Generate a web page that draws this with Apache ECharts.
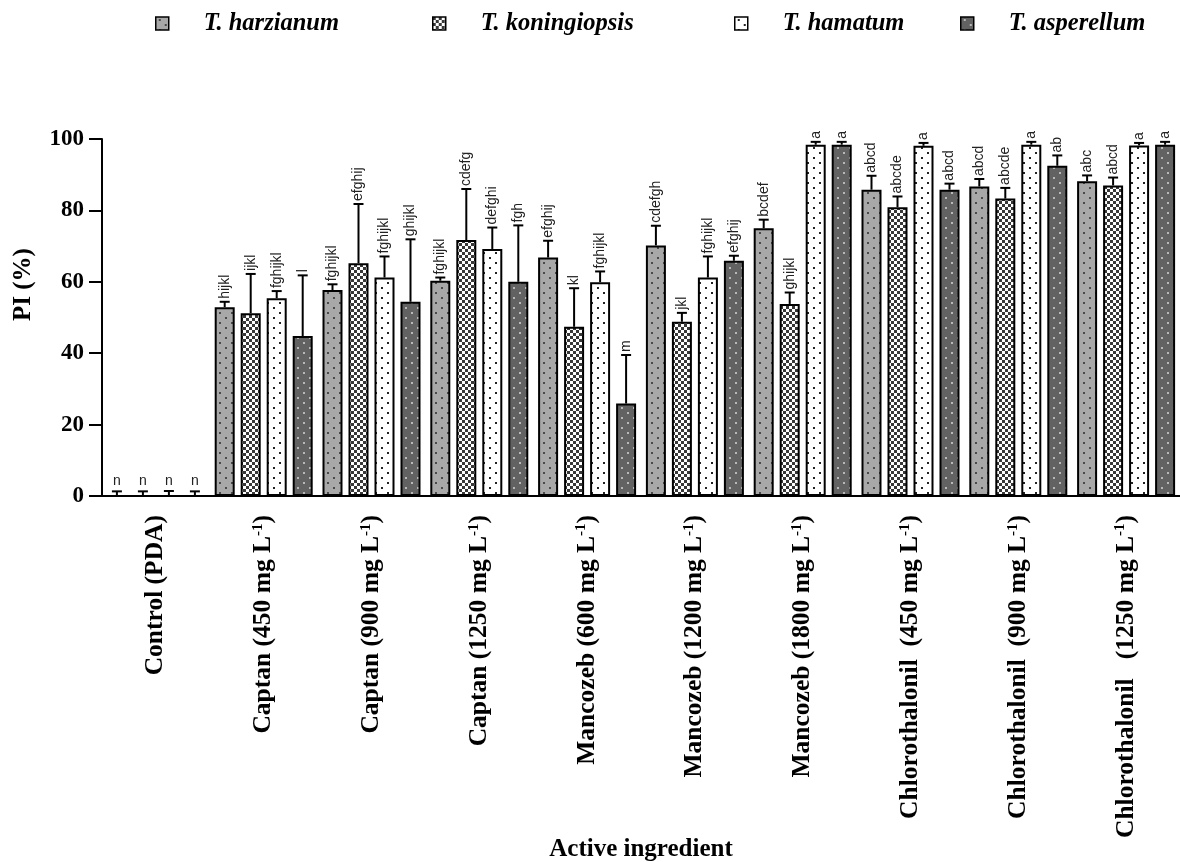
<!DOCTYPE html>
<html>
<head>
<meta charset="utf-8">
<script src="https://cdn.jsdelivr.net/npm/echarts@6/dist/echarts.min.js"></script>
<style>
html,body{margin:0;padding:0;background:#fff;}
#chart{width:1180px;height:862px;}
</style>
</head>
<body>
<div id="chart"></div>
<script>
// ---------- data ----------
const categories = ['Control (PDA)', 'Captan (450 mg L-1)', 'Captan (900 mg L-1)', 'Captan (1250 mg L-1)',
  'Mancozeb (600 mg L-1)', 'Mancozeb (1200 mg L-1)', 'Mancozeb (1800 mg L-1)',
  'Chlorothalonil  (450 mg L-1)', 'Chlorothalonil  (900 mg L-1)', 'Chlorothalonil   (1250 mg L-1)'];
const seriesNames = ['T. harzianum', 'T. koningiopsis', 'T. hamatum', 'T. asperellum'];

const harzianum    = [0, 52.9, 57.7, 60.3, 66.8, 70.2, 75.0, 85.8, 86.7, 88.2];
const harzianumErr = [1.3, 1.5, 1.6, 0.9, 4.7, 5.5, 2.4, 3.9, 2.1, 1.6];
const harzianumLbl = ['n', 'hijkl', 'fghijkl', 'fghijkl', 'efghij', 'cdefgh', 'bcdef', 'abcd', 'abcd', 'abc'];

const koningiopsis    = [0, 51.2, 65.2, 71.7, 47.4, 48.8, 53.8, 80.9, 83.3, 87.0];
const koningiopsisErr = [1.3, 11.0, 16.6, 14.3, 10.8, 2.5, 3.2, 3.0, 3.0, 2.2];
const koningiopsisLbl = ['n', 'ijkl', 'efghij', 'cdefg', 'kl', 'jkl', 'ghijkl', 'abcde', 'abcde', 'abcd'];

const hamatum    = [0, 55.4, 61.2, 69.2, 59.9, 61.2, 98.4, 98.1, 98.4, 98.2];
const hamatumErr = [1.4, 2.0, 5.9, 6.0, 3.0, 5.9, 0.8, 0.8, 0.8, 0.7];
const hamatumLbl = ['n', 'fghijkl', 'fghijkl', 'defghi', 'fghijkl', 'fghijkl', 'a', 'a', 'a', 'a'];

const asperellum    = [0, 44.8, 54.4, 60.0, 25.9, 65.9, 98.4, 85.8, 92.5, 98.4];
const asperellumErr = [1.3, 17.0, 17.5, 15.8, 13.6, 1.4, 0.8, 1.7, 2.9, 0.8];
const asperellumLbl = ['n', 'l', 'ghijkl', 'fgh', 'm', 'efghij', 'a', 'abcd', 'ab', 'a'];

const yTicks = [0, 20, 40, 60, 80, 100];

// ---------- styles ----------
const values = [harzianum, koningiopsis, hamatum, asperellum];
const errs = [harzianumErr, koningiopsisErr, hamatumErr, asperellumErr];
const lbls = [harzianumLbl, koningiopsisLbl, hamatumLbl, asperellumLbl];

const SERIF = "'Liberation Serif', 'Times New Roman', serif";
const SANS = "'Liberation Sans', Arial, sans-serif";
const BAR_W = 20, BAR_GAP = 6;

function dotPattern(bg, fg) {
  const c = document.createElement('canvas');
  c.width = 12; c.height = 10;
  const g = c.getContext('2d');
  g.fillStyle = bg; g.fillRect(0, 0, 12, 10);
  g.fillStyle = fg;
  g.fillRect(3, 2, 2, 2);
  g.fillRect(9, 7, 2, 2);
  return { image: c, repeat: 'repeat' };
}
function checkPattern(dark, light) {
  const c = document.createElement('canvas');
  c.width = 6; c.height = 6;
  const g = c.getContext('2d');
  g.fillStyle = light; g.fillRect(0, 0, 6, 6);
  g.fillStyle = dark;
  g.fillRect(0, 0, 3, 3);
  g.fillRect(3, 3, 3, 3);
  return { image: c, repeat: 'repeat' };
}
const fills = [
  dotPattern('#a8a8a8', '#4a4a4a'),
  checkPattern('#383838', '#ffffff'),
  dotPattern('#ffffff', '#222222'),
  dotPattern('#626262', '#b8b8b8')
];

const chart = echarts.init(document.getElementById('chart'), null, { renderer: 'canvas' });

const barSeries = seriesNames.map((name, s) => ({
  name: name,
  type: 'bar',
  data: values[s],
  barWidth: BAR_W,
  barGap: (BAR_GAP / BAR_W * 100) + '%',
  itemStyle: { color: fills[s], borderColor: '#000', borderWidth: 2 },
  emphasis: { disabled: true },
  z: 2
}));

const errSeries = seriesNames.map((name, s) => ({
  name: 'err-' + s,
  type: 'custom',
  coordinateSystem: 'cartesian2d',
  data: values[s].map((v, i) => [i, v, errs[s][i]]),
  clip: false,
  z: 3,
  silent: true,
  renderItem: function (params, api) {
    const i = api.value(0), v = api.value(1), e = api.value(2);
    const base = api.coord([i, v]);
    const top = api.coord([i, v + e]);
    const cx = base[0] + (s - 1.5) * (BAR_W + BAR_GAP);
    const label = lbls[s][params.dataIndex];
    const children = [
      { type: 'line', shape: { x1: cx, y1: base[1], x2: cx, y2: top[1] }, style: { stroke: '#000', lineWidth: 2 } },
      { type: 'line', shape: { x1: cx - 5, y1: top[1], x2: cx + 5, y2: top[1] }, style: { stroke: '#000', lineWidth: 2 } }
    ];
    if (v === 0) {
      children.push({ type: 'text', x: cx, y: top[1] - 3,
        style: { text: label, font: '14px ' + SANS, fill: '#222', align: 'center', verticalAlign: 'bottom' } });
    } else {
      children.push({ type: 'text', x: cx, y: top[1] - 3, rotation: Math.PI / 2,
        style: { text: label, font: '14px ' + SANS, fill: '#222', align: 'left', verticalAlign: 'middle' } });
    }
    return { type: 'group', children: children };
  }
}));

const legendLefts = [150, 427, 729, 955];
const legends = seriesNames.map((name, s) => ({
  data: [name],
  left: legendLefts[s],
  top: 6,
  icon: 'rect',
  itemWidth: 13,
  itemHeight: 13,
  itemStyle: { borderColor: '#000', borderWidth: 1.5 },
  selectedMode: false,
  textStyle: { fontFamily: SERIF, fontWeight: 'bold', fontStyle: 'italic', fontSize: 24.5, color: '#000', padding: [0, 0, 0, 30] }
}));

const option = {
  backgroundColor: '#fff',
  animation: false,
  legend: legends,
  grid: { left: 102, right: 0, top: 139, bottom: 366, containLabel: false, outerBoundsMode: 'none' },
  xAxis: {
    type: 'category',
    data: categories,
    name: 'Active ingredient',
    nameLocation: 'middle',
    nameGap: 341,
    nameMoveOverlap: false,
    nameTextStyle: { fontFamily: SERIF, fontWeight: 'bold', fontSize: 25, color: '#000' },
    axisLine: { lineStyle: { color: '#000', width: 2 } },
    axisTick: { alignWithLabel: true, length: 12, lineStyle: { color: '#000', width: 2 } },
    axisLabel: {
      rotate: 90,
      margin: 19,
      interval: 0,
      fontFamily: SERIF, fontWeight: 'bold', fontSize: 25.5, color: '#000',
      formatter: function (val) { return val.replace('L-1', 'L{s|-1}'); },
      rich: { s: { fontFamily: SERIF, fontWeight: 'bold', fontSize: 15, color: '#000', verticalAlign: 'top' } }
    }
  },
  yAxis: {
    type: 'value',
    min: yTicks[0],
    max: yTicks[yTicks.length - 1],
    interval: yTicks[1] - yTicks[0],
    name: 'PI (%)',
    nameLocation: 'middle',
    nameRotate: 90,
    nameGap: 66,
    nameTextStyle: { fontFamily: SERIF, fontWeight: 'bold', fontSize: 25, color: '#000', padding: [0, 0, 0, 66] },
    axisLine: { show: true, lineStyle: { color: '#000', width: 2 } },
    axisTick: { show: true, length: 13, lineStyle: { color: '#000', width: 2 } },
    axisLabel: { margin: 18, fontFamily: SERIF, fontWeight: 'bold', fontSize: 23, color: '#000' },
    splitLine: { show: false }
  },
  series: barSeries.concat(errSeries)
};
chart.setOption(option);
</script>
</body>
</html>
